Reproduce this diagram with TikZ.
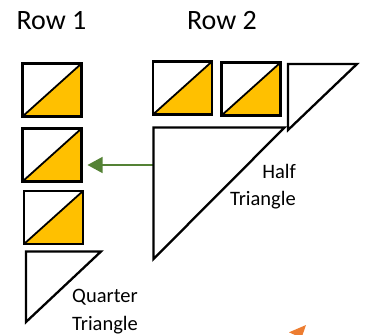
\documentclass[tikz,border=0pt]{standalone}
\usepackage{fontspec}
\setmainfont{Carlito}
\usetikzlibrary{arrows.meta}
\definecolor{qorange}{HTML}{FFC000}
\definecolor{agreen}{HTML}{548235}
\definecolor{aorange}{HTML}{ED7D31}
\begin{document}
\begin{tikzpicture}[x=1pt,y=-1pt,
  qsq/.style={draw=black, line width=2.3pt, minimum width=59pt, minimum height=53pt,
    inner sep=0pt, outer sep=0pt,
    path picture={\filldraw[fill=qorange, draw=black, line width=1.8pt]
      (path picture bounding box.south west) -- (path picture bounding box.north east)
      -- (path picture bounding box.south east) -- cycle;}},
  tri/.style={draw=black, line width=2.3pt, line join=miter},
  garrow/.style={draw=agreen, line width=1.4pt, -{Triangle[length=15pt,width=16pt]}},
  lbl/.style={inner sep=0pt, font=\fontsize{20.5}{27.4}\selectfont},
  title/.style={inner sep=0pt, font=\fontsize{28}{32}\selectfont}]
\useasboundingbox (0,0) rectangle (366,334);
% titles
\node[title, anchor=base] (r1) at (51.5,30) {Row 1};
\node[title, anchor=base] (r2) at (222,30) {Row 2};
% arrow start on the big triangle edge
\coordinate (bt1) at (153.5,127.5);
\coordinate (bt2) at (284.5,127.5);
\coordinate (bt3) at (153.5,259);
\coordinate (gs) at (153.5,165);
% row 1 squares
\node[qsq] (s1) at (52,90) {};
\node[qsq] (s2) at (52,155) {};
\node[qsq] (s3) at (53.5,217.5) {};
% row 2 squares
\node[qsq] (sa) at (182.5,88) {};
\node[qsq] (sb) at (251,89) {};
% green arrow
\draw[garrow, shorten >=6pt] (gs) -- (s2.east |- gs);
% half triangle (big)
\draw[tri] (bt1) -- (bt2) -- (bt3) -- cycle;
% small triangle in row 2
\coordinate (st1) at (288,64);
\coordinate (st2) at (357,64);
\coordinate (st3) at (288,130);
\draw[tri] (st1) -- (st2) -- (st3) -- cycle;
% quarter triangle
\coordinate (qt1) at (26,251.5);
\coordinate (qt2) at (101,251.5);
\coordinate (qt3) at (26,322);
\draw[tri] (qt1) -- (qt2) -- (qt3) -- cycle;
% labels
\node[lbl, align=right, anchor=base east] (half) at (296,205.7) {Half\\Triangle};
\node[lbl, align=center, anchor=base] (quarter) at (105,330) {Quarter\\Triangle};
% partial orange arrow head at the bottom
\begin{scope}
\clip (0,0) rectangle (366,334);
\coordinate (oa1) at (289,332.3);
\coordinate (oa2) at (306,325);
\coordinate (oa3) at (301.5,338);
\fill[aorange] (oa1) -- (oa2) -- (oa3) -- cycle;
\end{scope}
\end{tikzpicture}
\end{document}
